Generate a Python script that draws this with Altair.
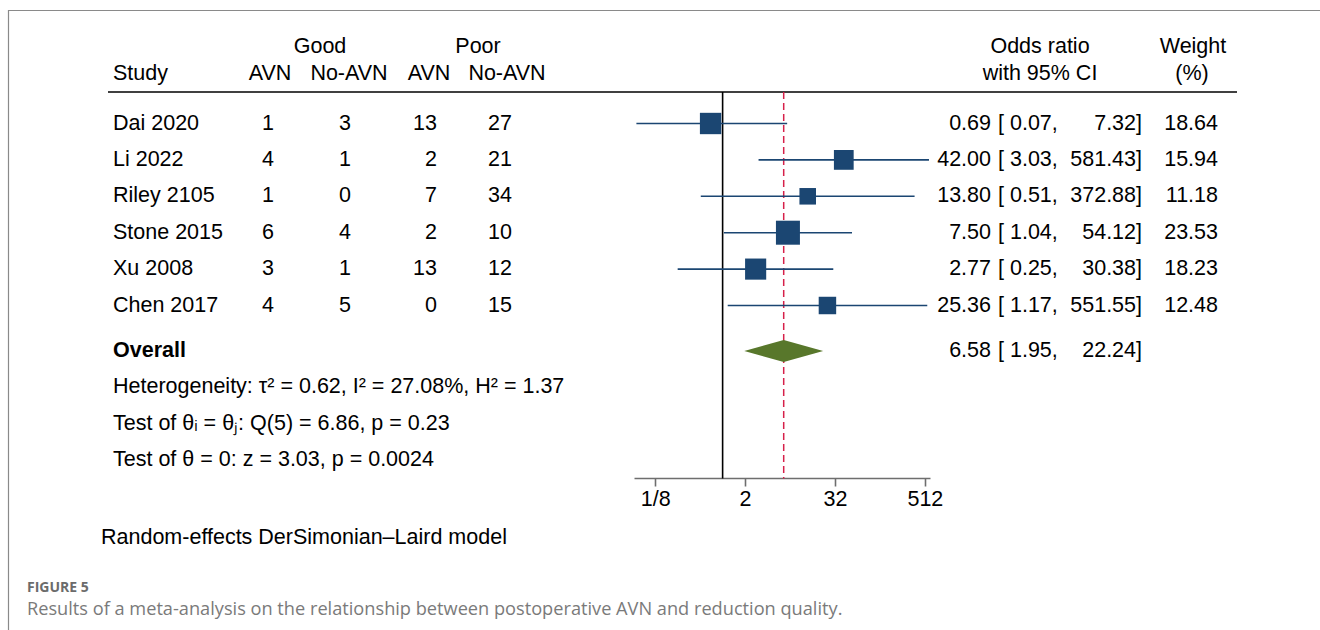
import altair as alt
import pandas as pd

# ---------------- data ----------------
studies = ["Dai 2020", "Li 2022", "Riley 2105", "Stone 2015", "Xu 2008", "Chen 2017"]
good_avn = [1, 4, 1, 6, 3, 4]
good_noavn = [3, 1, 0, 4, 1, 5]
poor_avn = [13, 2, 7, 2, 13, 0]
poor_noavn = [27, 21, 34, 10, 12, 15]
or_est = [0.69, 42.00, 13.80, 7.50, 2.77, 25.36]
ci_low = [0.07, 3.03, 0.51, 1.04, 0.25, 1.17]
ci_high = [7.32, 581.43, 372.88, 54.12, 30.38, 551.55]
weights = [18.64, 15.94, 11.18, 23.53, 18.23, 12.48]
overall_est, overall_low, overall_high = 6.58, 1.95, 22.24
tick_values = [0.125, 2, 32, 512]
stats_lines = [
    "Heterogeneity: τ² = 0.62, I² = 27.08%, H² = 1.37",
    "Test of θᵢ = θⱼ: Q(5) = 6.86, p = 0.23",
    "Test of θ = 0: z = 3.03, p = 0.0024",
]

FONT = "Liberation Sans"
FS = 21.5
NAVY = "#1b4672"
GREEN = "#58772b"
RED = "#d6204a"

n = len(studies)
rows = list(range(n))
ROW_OVERALL = 6.25
ROW_STATS = [7.25, 8.25, 9.25]
ROW_H1, ROW_H2, ROW_LINE, ROW_AXIS = -2.1, -1.35, -0.865, 9.75

yscale = alt.Scale(domain=[0, 10], range=[123.5, 487.5])
xscale = alt.Scale(type="log", base=2, domain=[0.065, 600], range=[634, 930])
xaxis = alt.Axis(
    values=tick_values,
    labelExpr="datum.value == 0.125 ? '1/8' : format(datum.value, 'd')",
    title=None, grid=False, domainColor="#6e6e6e", domainWidth=1.6,
    tickColor="#6e6e6e", tickWidth=1.6, tickSize=8, labelFontSize=FS,
    labelColor="black", labelFont=FONT, labelPadding=2, labelFlush=False,
)

def Y(field="row"):
    return alt.Y(f"{field}:Q", scale=yscale, axis=None)

def X(field):
    return alt.X(f"{field}:Q", scale=xscale, axis=xaxis)

def text_layer(labels, rws, x, align, size=FS, weight="normal", color="black", font=FONT):
    df = pd.DataFrame({"row": rws, "label": labels})
    return alt.Chart(df).mark_text(
        align=align, baseline="middle", fontSize=size, font=font,
        fontWeight=weight, color=color,
    ).encode(x=alt.value(x), y=Y(), text="label:N")

layers = []

# figure frame (left and top edges)
frame = pd.DataFrame({"k": [0]})
layers.append(alt.Chart(frame).mark_rule(color="#8a8a8a", strokeWidth=1.2).encode(
    x=alt.value(8.5), y=alt.value(10), y2=alt.value(630)))
layers.append(alt.Chart(frame).mark_rule(color="#8a8a8a", strokeWidth=1.2).encode(
    x=alt.value(8), x2=alt.value(1320), y=alt.value(10.5)))

# header rule
layers.append(alt.Chart(pd.DataFrame({"row": [ROW_LINE]})).mark_rule(
    color="black", strokeWidth=1.5).encode(x=alt.value(108), x2=alt.value(1237), y=Y()))

# reference lines
ref = pd.DataFrame({"v": [1.0], "row": [ROW_LINE], "row2": [ROW_AXIS]})
layers.append(alt.Chart(ref).mark_rule(color="black", strokeWidth=1.6).encode(
    x=X("v"), y=Y(), y2="row2:Q"))
ovl = pd.DataFrame({"v": [overall_est], "row": [ROW_LINE], "row2": [ROW_AXIS]})
layers.append(alt.Chart(ovl).mark_rule(color=RED, strokeWidth=1.5, strokeDash=[7, 4]).encode(
    x=X("v"), y=Y(), y2="row2:Q"))

# study CIs and squares
df = pd.DataFrame({"row": rows, "est": or_est, "lo": ci_low, "hi": ci_high, "w": weights})
layers.append(alt.Chart(df).mark_rule(color=NAVY, strokeWidth=1.6).encode(
    x=X("lo"), x2="hi:Q", y=Y()))
layers.append(alt.Chart(df).mark_square(color=NAVY, opacity=1, filled=True).encode(
    x=X("est"), y=Y(),
    size=alt.Size("w:Q", scale=alt.Scale(domain=[0, 25], range=[0, 612]), legend=None)))

# overall diamond
dia = pd.DataFrame({
    "x": [overall_low, overall_est, overall_high],
    "row": [ROW_OVERALL, ROW_OVERALL - 0.3, ROW_OVERALL],
    "row2": [ROW_OVERALL, ROW_OVERALL + 0.3, ROW_OVERALL],
})
layers.append(alt.Chart(dia).mark_area(color=GREEN, opacity=1, orient="vertical").encode(
    x=X("x"), y=Y(), y2="row2:Q"))

# header texts
layers += [
    text_layer(["Good"], [ROW_H1], 320, "center"),
    text_layer(["Poor"], [ROW_H1], 478, "center"),
    text_layer(["Study"], [ROW_H2], 113, "left"),
    text_layer(["AVN"], [ROW_H2], 270, "center"),
    text_layer(["No-AVN"], [ROW_H2], 349, "center"),
    text_layer(["AVN"], [ROW_H2], 429, "center"),
    text_layer(["No-AVN"], [ROW_H2], 507, "center"),
    text_layer(["Odds ratio"], [ROW_H1], 1040, "center"),
    text_layer(["with 95% CI"], [ROW_H2], 1040, "center"),
    text_layer(["Weight"], [ROW_H1], 1193, "center"),
    text_layer(["(%)"], [ROW_H2], 1192, "center"),
]

# table body
layers += [
    text_layer(studies, rows, 113, "left"),
    text_layer([str(v) for v in good_avn], rows, 274, "right"),
    text_layer([str(v) for v in good_noavn], rows, 351, "right"),
    text_layer([str(v) for v in poor_avn], rows, 437, "right"),
    text_layer([str(v) for v in poor_noavn], rows, 512, "right"),
    text_layer([f"{v:.2f}" for v in or_est] + [f"{overall_est:.2f}"], rows + [ROW_OVERALL], 991, "right"),
    text_layer([f"[ {v:.2f}," for v in ci_low] + [f"[ {overall_low:.2f},"], rows + [ROW_OVERALL], 998, "left"),
    text_layer([f"{v:.2f}]" for v in ci_high] + [f"{overall_high:.2f}]"], rows + [ROW_OVERALL], 1142, "right"),
    text_layer([f"{v:.2f}" for v in weights], rows, 1218, "right"),
    text_layer(["Overall"], [ROW_OVERALL], 113, "left", weight="bold"),
    text_layer(stats_lines, ROW_STATS, 113, "left"),
    text_layer(["Random-effects DerSimonian–Laird model"], [11.39], 101, "left"),
    text_layer(["FIGURE 5"], [12.76], 27, "left", size=14, weight="bold", color="#6b6b6b", font="Open Sans"),
    text_layer(["Results of a meta-analysis on the relationship between postoperative AVN and reduction quality."],
               [13.37], 27, "left", size=18.2, color="#7a7a7a", font="Open Sans"),
]

chart = alt.layer(*layers).properties(
    width=1320, height=478,
    padding={"left": 0, "top": 0, "right": 0, "bottom": 152},
    autosize="none",
    background="white",
).configure_view(stroke=None)

chart.save("out.html", embed_options={"renderer": "svg", "actions": False})
